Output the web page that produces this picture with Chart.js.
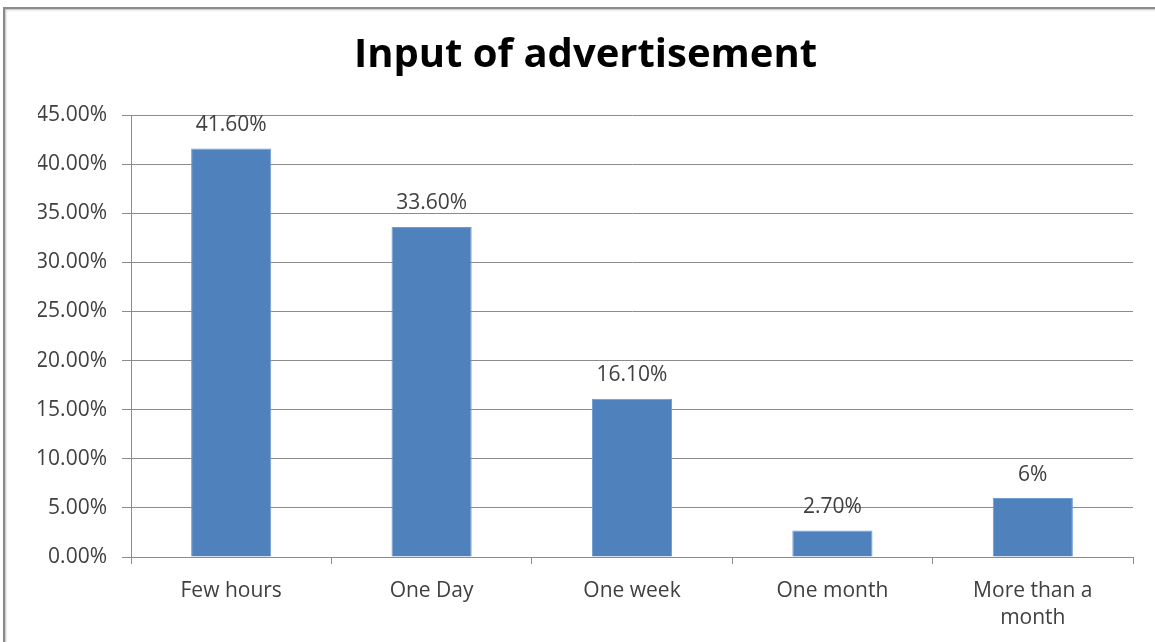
<!DOCTYPE html>
<html>
<head>
<meta charset="utf-8">
<script src="https://cdn.jsdelivr.net/npm/chart.js@4.4.1/dist/chart.umd.min.js"></script>
<style>
  html, body { margin: 0; padding: 0; background: #fff; }
  body { width: 1155px; height: 642px; position: relative; overflow: hidden; }
  #frame {
    position: absolute; left: 3px; top: 7px; width: 1200px; height: 700px;
    border-left: 2px solid #8a8a8a; border-top: 2px solid #8a8a8a;
    box-shadow: 1px 1px 2px rgba(0,0,0,0.25) inset;
  }
  #wrap { position: absolute; left: 0; top: 0; width: 1155px; height: 642px; }
</style>
</head>
<body>
<div id="frame"></div>
<div id="wrap"><canvas id="chart" width="1155" height="642"></canvas></div>
<script>
// Response shares per time span
const categories = ['Few hours', 'One Day', 'One week', 'One month', ['More than a', 'month']];
const shares = [41.6, 33.6, 16.1, 2.7, 6];
const shareLabels = ['41.60%', '33.60%', '16.10%', '2.70%', '6%'];
const yTicks = [0, 5, 10, 15, 20, 25, 30, 35, 40, 45];

const FONT = "'Open Sans', 'Liberation Sans', sans-serif";

// Writes each bar's value label just above its top edge
const valueLabels = {
  id: 'valueLabels',
  afterDatasetsDraw(chart) {
    const ctx = chart.ctx;
    const meta = chart.getDatasetMeta(0);
    ctx.save();
    ctx.font = '21px ' + FONT;
    ctx.fillStyle = '#404040';
    ctx.textAlign = 'center';
    ctx.textBaseline = 'bottom';
    meta.data.forEach((bar, i) => {
      ctx.fillText(shareLabels[i], bar.x, bar.y - 13);
    });
    ctx.restore();
  }
};

const LEFT_PAD = 38;

new Chart(document.getElementById('chart'), {
  type: 'bar',
  data: {
    labels: categories,
    datasets: [{
      data: shares,
      backgroundColor: '#4f81bd',
      borderColor: '#6f9bd3',
      borderWidth: 1,
      barPercentage: 0.4,
      categoryPercentage: 1.0
    }]
  },
  options: {
    responsive: false,
    animation: false,
    devicePixelRatio: 1,
    layout: { padding: { left: LEFT_PAD, right: 22, top: 8, bottom: 0 } },
    plugins: {
      legend: { display: false },
      tooltip: { enabled: false },
      title: {
        display: true,
        text: 'Input of advertisement',
        color: '#000',
        font: { family: FONT, size: 40, weight: 'bold', lineHeight: 1.2 },
        padding: { top: 24, bottom: 35 }
      }
    },
    scales: {
      x: {
        grid: {
          offset: true,
          drawOnChartArea: false,
          drawTicks: true,
          tickLength: 7,
          color: '#8c8c8c'
        },
        border: { display: true, color: '#8c8c8c', width: 1 },
        ticks: {
          color: '#404040',
          padding: 13,
          maxRotation: 0,
          font: { family: FONT, size: 21, lineHeight: 1.3 }
        },
        afterFit(scale) { scale.height = 642 - 557; }
      },
      y: {
        min: 0,
        max: 45,
        afterBuildTicks(scale) { scale.ticks = yTicks.map(v => ({ value: v })); },
        grid: { color: '#8c8c8c', lineWidth: 1, tickLength: 9 },
        border: { display: true, color: '#8c8c8c', width: 1 },
        ticks: {
          color: '#404040',
          padding: 15,
          font: { family: FONT, size: 21 },
          callback: v => v.toFixed(2) + '%'
        },
        afterFit(scale) { scale.width = 131 - LEFT_PAD; }
      }
    }
  },
  plugins: [valueLabels]
});
</script>
</body>
</html>
